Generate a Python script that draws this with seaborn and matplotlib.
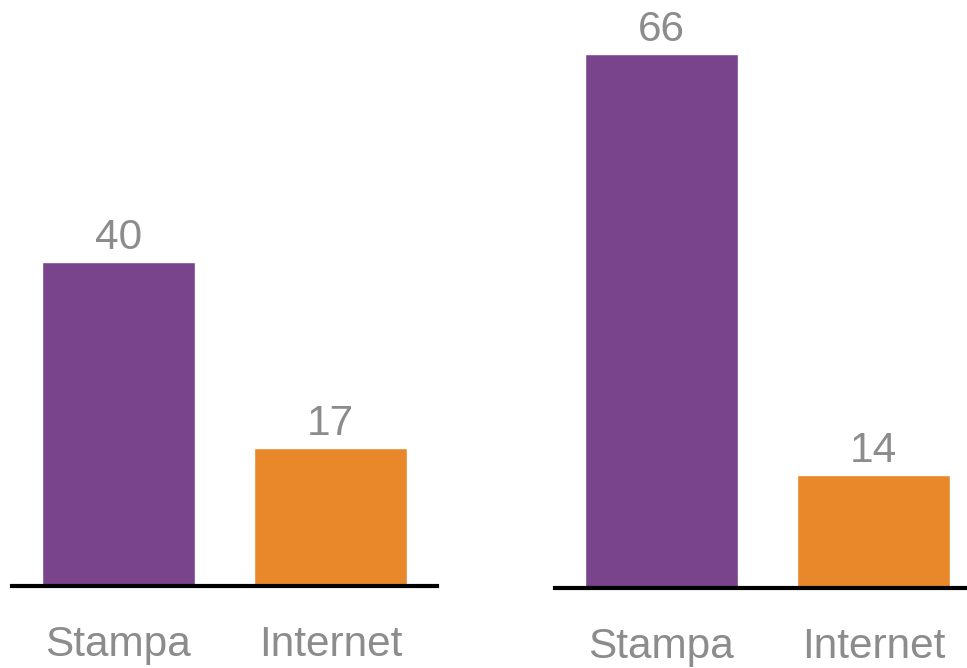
import matplotlib
matplotlib.use("Agg")
import matplotlib.pyplot as plt
import seaborn as sns
import pandas as pd

categories = ["Stampa", "Internet"]
left_values = [40, 17]
right_values = [66, 14]
colors = ["#7A448C", "#E8882A"]
text_gray = "#8C8C8C"

sns.set_style("white")
plt.rcParams["font.family"] = ["Liberation Sans", "DejaVu Sans"]

fig = plt.figure(figsize=(9.67, 6.68), dpi=100)
ax1 = fig.add_axes([12/967, (668-586)/668, 425/967, 560/668])
ax2 = fig.add_axes([555/967, (668-588)/668, 425/967, 560/668])

for ax, vals in ((ax1, left_values), (ax2, right_values)):
    df = pd.DataFrame({"cat": categories, "val": vals})
    sns.barplot(data=df, x="cat", y="val", hue="cat", palette=colors,
                width=0.72, legend=False, ax=ax, saturation=1)
    ax.set_xlim(-0.5, 1.5)
    ax.set_ylim(0, 69.2)
    for c in ax.containers:
        ax.bar_label(c, labels=[f"{v:.0f}" for v in c.datavalues], padding=3,
                     fontsize=30.5, color=text_gray)
    for s in ["top", "right", "left"]:
        ax.spines[s].set_visible(False)
    ax.spines["bottom"].set_color("black")
    ax.spines["bottom"].set_linewidth(3)
    ax.set_yticks([])
    ax.set_xlabel("")
    ax.set_ylabel("")
    ax.tick_params(axis="x", length=0, pad=28, labelsize=30.5, labelcolor=text_gray)
    ax.patch.set_alpha(0)

fig.savefig("out.png", dpi=100)
